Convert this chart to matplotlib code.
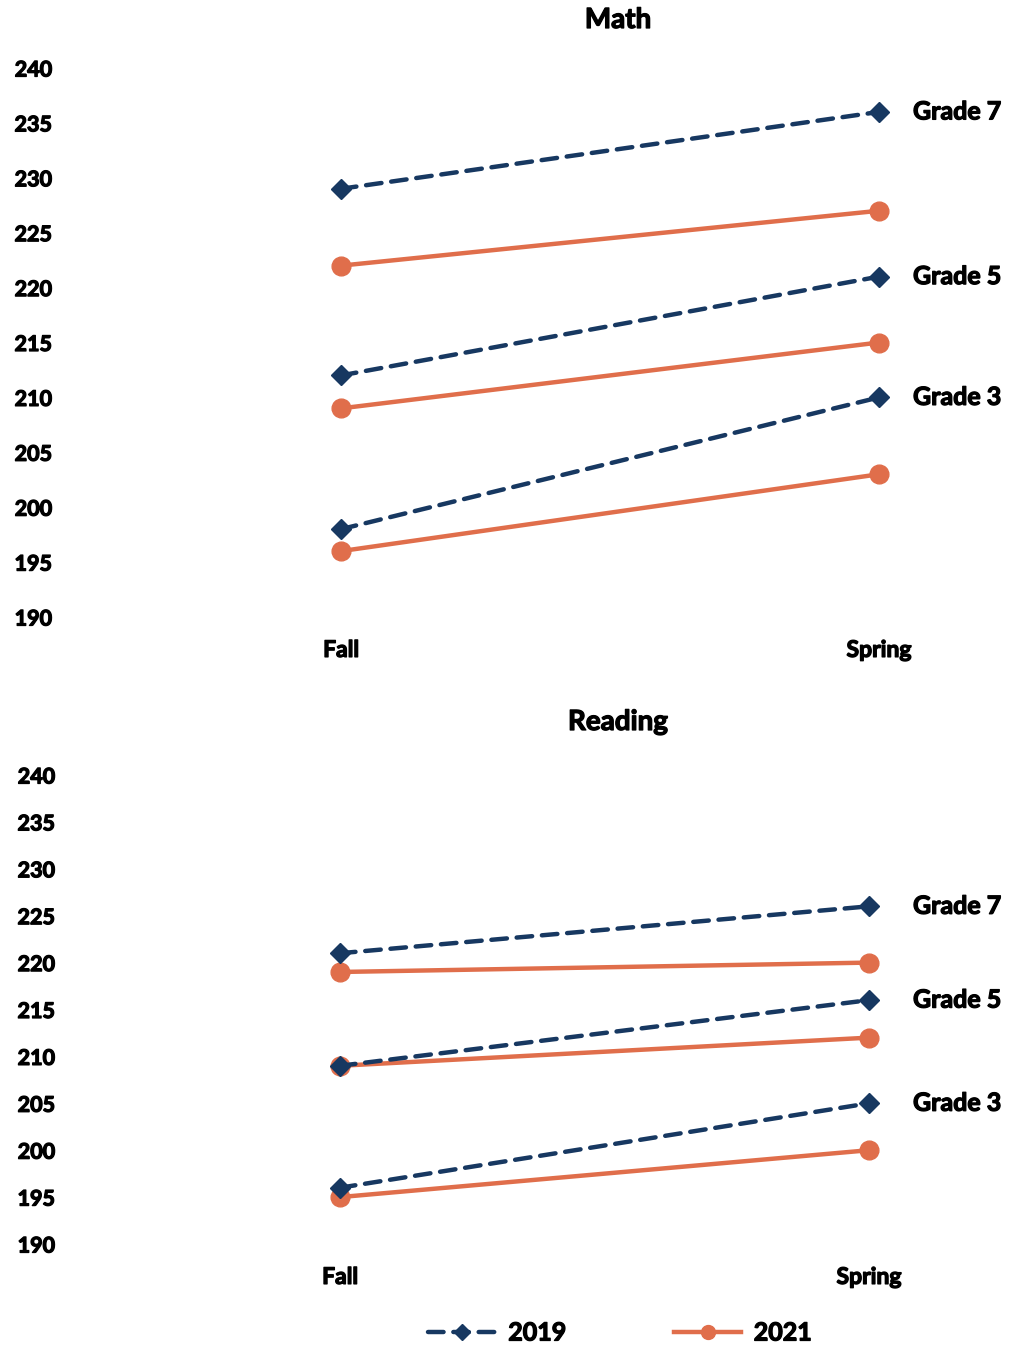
import matplotlib
matplotlib.use("Agg")
import matplotlib.pyplot as plt
import matplotlib.patheffects as pe
from matplotlib.lines import Line2D

plt.rcParams['font.family'] = ['Lato', 'DejaVu Sans']

terms = ["Fall", "Spring"]
grades = ["Grade 7", "Grade 5", "Grade 3"]
math_2019 = {"Grade 7": [229, 236], "Grade 5": [212, 221], "Grade 3": [198, 210]}
math_2021 = {"Grade 7": [222, 227], "Grade 5": [209, 215], "Grade 3": [196, 203]}
read_2019 = {"Grade 7": [221, 226], "Grade 5": [209, 216], "Grade 3": [196, 205]}
read_2021 = {"Grade 7": [219, 220], "Grade 5": [209, 212], "Grade 3": [195, 200]}
yticks = [190, 195, 200, 205, 210, 215, 220, 225, 230, 235, 240]

NAVY = "#173861"
ORANGE = "#E06E4B"
WT = 'bold'
PE = [pe.withStroke(linewidth=0.9, foreground='black')]
W, H = 1011, 1346
fig = plt.figure(figsize=(W / 100, H / 100), dpi=100)


def make_ax(x0, x1, ytop, ybot, title, d19, d21, tick_right, title_y, lab_off):
    ax = fig.add_axes([x0 / W, 1 - ybot / H, (x1 - x0) / W, (ybot - ytop) / H])
    ax.set_xlim(0, 1)
    ax.set_ylim(190, 240)
    for s in ax.spines.values():
        s.set_visible(False)
    ax.set_yticks(yticks)
    ax.set_yticklabels([str(v) for v in yticks], fontsize=15.5, fontweight=WT)
    ax.tick_params(axis='y', length=0, pad=(x0 - tick_right) * 0.72)
    ax.set_xticks([0, 1])
    ax.set_xticklabels(terms, fontsize=16.5, fontweight=WT)
    ax.tick_params(axis='x', length=0, pad=16.5)
    for lab in ax.get_xticklabels() + ax.get_yticklabels():
        lab.set_path_effects(PE)
    xs = [0, 1]
    for g in grades:
        ax.plot(xs, d19[g], color=NAVY, lw=3.2, ls=(0, (3.5, 2.2)),
                dash_capstyle='round', marker='D', ms=10, clip_on=False, zorder=3)
        ax.plot(xs, d21[g], color=ORANGE, lw=3.2, marker='o', ms=13.5,
                clip_on=False, zorder=2)
        ax.annotate(g, xy=(1, d19[g][1]), xytext=(lab_off * 0.72, 0), textcoords='offset points',
                    fontsize=18, fontweight=WT, va='center', ha='left',
                    annotation_clip=False, path_effects=PE)
    fig.text(618 / W, 1 - title_y / H, title, fontsize=20, fontweight=WT,
             ha='center', va='center', path_effects=PE)
    return ax


make_ax(341, 879, 68, 617, "Math", math_2019, math_2021, 52, 20, 34)
make_ax(340, 869, 775, 1244, "Reading", read_2019, read_2021, 55, 722, 44)

h19 = Line2D([], [], color=NAVY, lw=3.2, ls=(0, (3.5, 2.2)), dash_capstyle='round',
             marker='D', ms=8)
h21 = Line2D([], [], color=ORANGE, lw=3.2, marker='o', ms=10)
leg = fig.legend([h19, h21], ["2019", "2021"], loc='center', bbox_to_anchor=(620 / W, 1 - 1333 / H),
                 ncol=2, frameon=False, prop={'family': ['Lato', 'DejaVu Sans'], 'weight': WT, 'size': 18},
                 handlelength=2.7, handletextpad=0.5, columnspacing=4.3)
for t in leg.get_texts():
    t.set_path_effects(PE)

fig.savefig("out.png", dpi=100)
